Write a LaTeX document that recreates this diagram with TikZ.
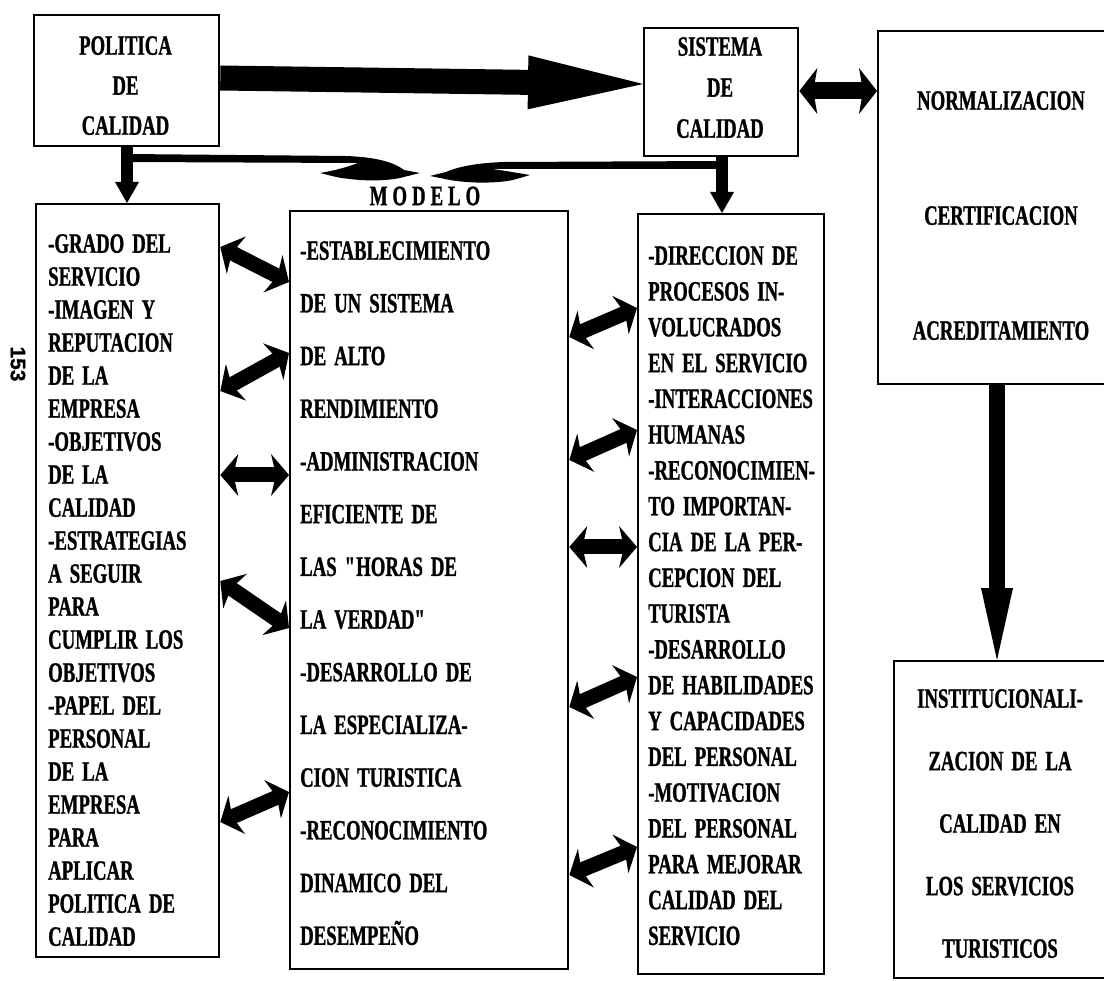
\documentclass[tikz,border=0pt]{standalone}
\usepackage{fontspec}
\setmainfont{Liberation Serif}[FakeStretch=0.67, WordSpace=1.7, BoldFeatures={FakeBold=1}]
\newfontfamily\pagefont{Liberation Sans}[FakeBold=1]
\usetikzlibrary{arrows.meta}
\begin{document}
\begin{tikzpicture}[x=1pt,y=-1pt,
  box/.style={draw, line width=2.3pt, inner sep=0pt, anchor=north west},
  txt/.style={inner sep=0pt, font=\bfseries\fontsize{28}{#1}\selectfont},
  dbl/.style={line width=15pt,
    {Stealth[length=18pt,width=42pt,inset=5pt,line width=0pt]}-{Stealth[length=18pt,width=42pt,inset=5pt,line width=0pt]}},
  down/.style={line width=12pt, -{Triangle[length=21pt,width=24pt,line width=0pt]}},
  swoosh/.style={fill=black}
]
\useasboundingbox (0,0) rectangle (1104,981);

% boxes
\node[box, minimum width=185, minimum height=131] (P) at (33,14) {};
\node[box, minimum width=154, minimum height=128] (S) at (643,27) {};
\node[box, minimum width=248, minimum height=353] (N) at (877,30) {};
\node[box, minimum width=183, minimum height=753] (L) at (35,203) {};
\node[box, minimum width=278, minimum height=758] (M) at (289,210) {};
\node[box, minimum width=186, minimum height=760] (R) at (637,213) {};
\node[box, minimum width=222, minimum height=317] (I) at (893,660) {};

% texts
\node[txt=40, anchor=north, align=center] (Pt) at (125.5,36) {POLITICA\\DE\\CALIDAD};
\node[txt=41, anchor=north, align=center] (St) at (720,37) {SISTEMA\\DE\\CALIDAD};
\node[txt=115, anchor=north, align=center] (Nt) at (1001,91) {NORMALIZACION\\CERTIFICACION\\ACREDITAMIENTO};
\node[txt=62.5, anchor=north, align=center] (It) at (1000,689)
  {INSTITUCIONALI-\\ZACION DE LA\\CALIDAD EN\\LOS SERVICIOS\\TURISTICOS};
\node[txt=33, anchor=north west, align=left] (Lt) at (48,234)
  {-GRADO DEL\\SERVICIO\\-IMAGEN Y\\REPUTACION\\DE LA\\EMPRESA\\-OBJETIVOS\\DE LA\\CALIDAD\\-ESTRATEGIAS\\A SEGUIR\\PARA\\CUMPLIR LOS\\OBJETIVOS\\-PAPEL DEL\\PERSONAL\\DE LA\\EMPRESA\\PARA\\APLICAR\\POLITICA DE\\CALIDAD};
\node[txt=52.7, anchor=north west, align=left] (Mt) at (300,241)
  {-ESTABLECIMIENTO\\DE UN SISTEMA\\DE ALTO\\RENDIMIENTO\\-ADMINISTRACION\\EFICIENTE DE\\LAS \textquotedbl\kern-4pt HORAS DE\\LA VERDAD\textquotedbl\\-DESARROLLO DE\\LA ESPECIALIZA-\\CION TURISTICA\\-RECONOCIMIENTO\\DINAMICO DEL\\DESEMPEÑO};
\node[txt=35.8, anchor=north west, align=left] (Rt) at (648,246)
  {-DIRECCION DE\\PROCESOS IN-\\VOLUCRADOS\\EN EL SERVICIO\\-INTERACCIONES\\HUMANAS\\-RECONOCIMIEN-\\TO IMPORTAN-\\CIA DE LA PER-\\CEPCION DEL\\TURISTA\\-DESARROLLO\\DE HABILIDADES\\Y CAPACIDADES\\DEL PERSONAL\\-MOTIVACION\\DEL PERSONAL\\PARA MEJORAR\\CALIDAD DEL\\SERVICIO};

\node[txt=28] (mod) at (425,196) {M\hspace{5pt}O\hspace{5pt}D\hspace{5pt}E\hspace{5pt}L\hspace{5pt}O};
\node[font=\pagefont\bfseries\fontsize{21}{21}\selectfont, rotate=-90, inner sep=0pt] (pg) at (18,364) {153};

% main arrows
\draw[line width=25pt, -{Triangle[length=115pt,width=54pt,line width=0pt]}]
  ([yshift=-64]P.north east) -- ([yshift=-57]S.north west);
\draw[line width=17pt, {Stealth[length=18pt,width=46pt,inset=4pt,line width=0pt]}-{Stealth[length=18pt,width=46pt,inset=4pt,line width=0pt]}]
  ([yshift=-64]S.north east) -- ([yshift=-61]N.north west);
\draw[down] ([xshift=94]P.south west) -- ([xshift=92]L.north west);
\draw[down] ([xshift=79]S.south west) -- ([xshift=85]R.north west);
\draw[line width=16pt, -{Triangle[length=72pt,width=32pt,line width=0pt]}]
  ([xshift=120]N.south west) -- ([xshift=104]I.north west);

% branches to MODELO
\coordinate (j1) at (127,154);
\coordinate (j2) at (722,161);
\fill[swoosh] (j1) -- (345,156) .. controls (378,157) and (395,163) .. (404,170)
  -- (420,173) -- (400,178)
  .. controls (385,181) and (365,181) .. (350,179)
  .. controls (340,178) .. (320,173)
  .. controls (338,170) and (350,166) .. (358,163)
  -- ([yshift=-8]j1) -- cycle;
\fill[swoosh] (j2) -- (505,162) .. controls (472,163) and (455,168) .. (446,172)
  -- (430,176) -- (450,180)
  .. controls (468,183) and (485,183) .. (498,182)
  .. controls (510,181) .. (530,175)
  .. controls (512,172) and (500,170) .. (492,169)
  -- ([yshift=-8]j2) -- cycle;

% left <-> middle
\draw[dbl] ([yshift=-44]L.north east) -- ([yshift=-72]M.north west);
\draw[dbl] ([yshift=-188]L.north east) -- ([yshift=-143]M.north west);
\draw[dbl] ([yshift=-272]L.north east) -- ([yshift=-265]M.north west);
\draw[dbl] ([yshift=-378]L.north east) -- ([yshift=-418]M.north west);
\draw[dbl] ([yshift=-619]L.north east) -- ([yshift=-582]M.north west);
% middle <-> right
\draw[dbl] ([yshift=-127]M.north east) -- ([yshift=-95]R.north west);
\draw[dbl] ([yshift=-250]M.north east) -- ([yshift=-217]R.north west);
\draw[dbl] ([yshift=-337]M.north east) -- ([yshift=-334]R.north west);
\draw[dbl] ([yshift=-497]M.north east) -- ([yshift=-464]R.north west);
\draw[dbl] ([yshift=-665]M.north east) -- ([yshift=-634]R.north west);
\end{tikzpicture}
\end{document}
